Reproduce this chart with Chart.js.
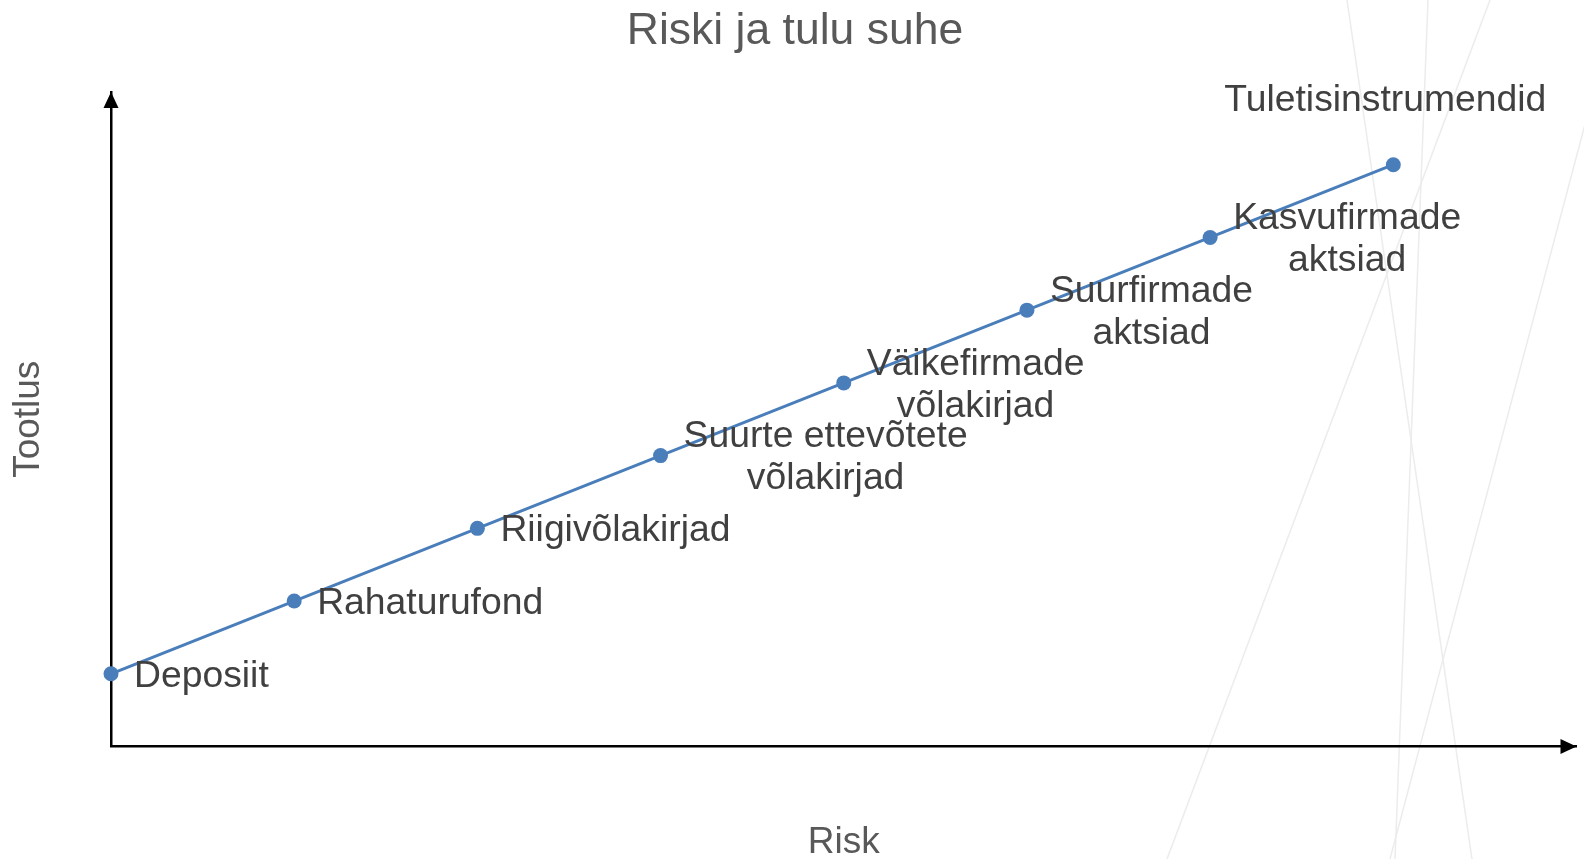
<!DOCTYPE html>
<html>
<head>
<meta charset="utf-8">
<title>Riski ja tulu suhe</title>
<script src="https://cdn.jsdelivr.net/npm/chart.js@4/dist/chart.umd.min.js"></script>
<style>
	html, body { margin: 0; padding: 0; background: #fff; }
	#wrap { width: 1584px; height: 859px; position: relative; }
</style>
</head>
<body>
<div id="wrap"><canvas id="chart"></canvas></div>
<script>
// instruments, ordered by risk
const categories = [
	["Deposiit"],
	["Rahaturufond"],
	["Riigivõlakirjad"],
	["Suurte ettevõtete", "võlakirjad"],
	["Väikefirmade", "võlakirjad"],
	["Suurfirmade", "aktsiad"],
	["Kasvufirmade", "aktsiad"],
	["Tuletisinstrumendid"]
];
const riskValues = [0, 1, 2, 3, 4, 5, 6, 7];
const returnValues = [1, 2, 3, 4, 5, 6, 7, 8];
const labelPlacement = ["right", "right", "right", "right", "right", "right", "right", "above"];

const FONT = "'Liberation Sans', Arial, sans-serif";

// faint decorative strokes in the background
const backdrop = {
	id: "backdrop",
	beforeDraw(chart) {
		const ctx = chart.ctx;
		ctx.save();
		ctx.fillStyle = "#fff";
		ctx.fillRect(0, 0, chart.width, chart.height);
		ctx.strokeStyle = "#ececec";
		ctx.lineWidth = 1.5;
		[[1490, 0, 1167, 859], [1428, 0, 1395, 859], [1347, 0, 1472, 859], [1618, 0, 1390, 859]].forEach(l => {
			ctx.beginPath();
			ctx.moveTo(l[0], l[1]);
			ctx.lineTo(l[2], l[3]);
			ctx.stroke();
		});
		ctx.restore();
	}
};

// arrowheads on the axes
const arrows = {
	id: "arrows",
	afterDraw(chart) {
		const ctx = chart.ctx;
		const a = chart.chartArea;
		ctx.save();
		ctx.fillStyle = "#000";
		ctx.beginPath();
		ctx.moveTo(a.right, a.bottom);
		ctx.lineTo(a.right - 16, a.bottom - 7.5);
		ctx.lineTo(a.right - 16, a.bottom + 7.5);
		ctx.closePath();
		ctx.fill();
		ctx.beginPath();
		ctx.moveTo(a.left, a.top);
		ctx.lineTo(a.left - 7.5, a.top + 16);
		ctx.lineTo(a.left + 7.5, a.top + 16);
		ctx.closePath();
		ctx.fill();
		ctx.restore();
	}
};

// text next to each point
const pointLabels = {
	id: "pointLabels",
	afterDatasetsDraw(chart) {
		const ctx = chart.ctx;
		const pts = chart.getDatasetMeta(0).data;
		ctx.save();
		ctx.font = "37.3px " + FONT;
		ctx.fillStyle = "#404040";
		ctx.textAlign = "center";
		ctx.textBaseline = "middle";
		const lh = 42;
		pts.forEach((p, i) => {
			const lines = categories[i];
			const w = Math.max(...lines.map(t => ctx.measureText(t).width));
			let cx, cy;
			if (labelPlacement[i] === "above") {
				cx = p.x - 8;
				cy = p.y - 64;
			} else {
				cx = p.x + 23 + w / 2;
				cy = p.y + 2.5;
			}
			const y0 = cy - (lines.length - 1) * lh / 2;
			lines.forEach((t, j) => ctx.fillText(t, cx, y0 + j * lh));
		});
		ctx.restore();
	}
};

new Chart(document.getElementById("chart"), {
	type: "line",
	data: {
		datasets: [{
			data: riskValues.map((x, i) => ({ x: x, y: returnValues[i] })),
			borderColor: "#4a7ebb",
			backgroundColor: "#4a7ebb",
			borderWidth: 3,
			pointRadius: 7.5,
			pointBorderWidth: 0,
			tension: 0,
			clip: false
		}]
	},
	options: {
		responsive: true,
		maintainAspectRatio: false,
		animation: false,
		layout: { padding: { left: 10, right: 4, top: 0, bottom: 0 } },
		plugins: {
			legend: { display: false },
			tooltip: { enabled: false },
			title: {
				display: true,
				text: "Riski ja tulu suhe",
				color: "#595959",
				font: { family: FONT, size: 44.5, weight: "normal", lineHeight: 1 },
				padding: { top: 9.5, bottom: 38 }
			}
		},
		scales: {
			x: {
				type: "linear",
				min: 0,
				max: 8,
				grid: { display: false, drawTicks: false },
				ticks: { display: false },
				border: { display: true, color: "#000", width: 2.5 },
				title: {
					display: true,
					text: "Risk",
					color: "#595959",
					font: { family: FONT, size: 37, lineHeight: 0.9 },
					padding: { top: 79.2, bottom: 0 }
				}
			},
			y: {
				type: "linear",
				min: 0,
				max: 9,
				grid: { display: false, drawTicks: false },
				ticks: { display: false },
				border: { display: true, color: "#000", width: 2.5 },
				title: {
					display: true,
					text: "Tootlus",
					color: "#595959",
					font: { family: FONT, size: 37, lineHeight: 1 },
					padding: { top: 0, bottom: 64 }
				}
			}
		}
	},
	plugins: [backdrop, arrows, pointLabels]
});
</script>
</body>
</html>
